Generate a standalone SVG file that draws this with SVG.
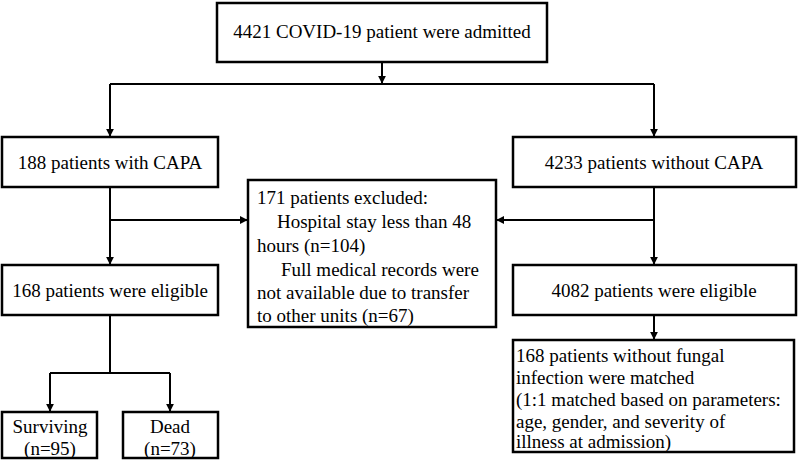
<svg xmlns="http://www.w3.org/2000/svg" width="798" height="464" viewBox="0 0 798 464">
<style>
.box{fill:#fff;stroke:#000;stroke-width:2.5}
.t{font-family:"Liberation Serif","Times New Roman",serif;font-size:19px;fill:#000}
.c{text-anchor:middle}
.ln{fill:none;stroke:#000;stroke-width:2}
</style>
<defs>
<marker id="ah" viewBox="0 0 10 10" refX="9" refY="5" markerWidth="4" markerHeight="4" orient="auto" markerUnits="strokeWidth">
<path d="M0,0 L10,5 L0,10 z" fill="#000"/>
</marker>
</defs>
<rect width="798" height="464" fill="#fff"/>
<g id="connectors">
<path class="ln" d="M382,62 V83" marker-end="url(#ah)"/>
<path class="ln" d="M110,84 H654"/>
<path class="ln" d="M110,84 V136" marker-end="url(#ah)"/>
<path class="ln" d="M654,84 V136" marker-end="url(#ah)"/>
<path class="ln" d="M110,187 V264" marker-end="url(#ah)"/>
<path class="ln" d="M110,220 H247" marker-end="url(#ah)"/>
<path class="ln" d="M654,187 V264" marker-end="url(#ah)"/>
<path class="ln" d="M654,220 H497" marker-end="url(#ah)"/>
<path class="ln" d="M654,315 V339" marker-end="url(#ah)"/>
<path class="ln" d="M110,315 V373"/>
<path class="ln" d="M50,373 H170"/>
<path class="ln" d="M50,373 V411" marker-end="url(#ah)"/>
<path class="ln" d="M170,373 V411" marker-end="url(#ah)"/>
</g>
<g id="admitted">
<rect class="box" x="217" y="3" width="330" height="59"/>
<text class="t c" x="382" y="38">4421 COVID-19 patient were admitted</text>
</g>
<g id="with-capa">
<rect class="box" x="2" y="137" width="216" height="50"/>
<text class="t c" x="110" y="169">188 patients with CAPA</text>
</g>
<g id="without-capa">
<rect class="box" x="513" y="137" width="283" height="50"/>
<text class="t c" x="654" y="169">4233 patients without CAPA</text>
</g>
<g id="excluded">
<rect class="box" x="248" y="180" width="248" height="147"/>
<text class="t" x="257" y="204">171 patients excluded:</text>
<text class="t" x="277" y="228">Hospital stay less than 48</text>
<text class="t" x="257" y="252">hours (n=104)</text>
<text class="t" x="281" y="276">Full medical records were</text>
<text class="t" x="257" y="299">not available due to transfer</text>
<text class="t" x="257" y="322">to other units (n=67)</text>
</g>
<g id="eligible-capa">
<rect class="box" x="2" y="265" width="216" height="50"/>
<text class="t c" x="110" y="297">168 patients were eligible</text>
</g>
<g id="eligible-noncapa">
<rect class="box" x="513" y="265" width="283" height="50"/>
<text class="t c" x="654" y="297">4082 patients were eligible</text>
</g>
<g id="matched">
<rect class="box" x="513" y="340" width="281" height="112"/>
<text class="t" x="516" y="362">168 patients without fungal</text>
<text class="t" x="516" y="384">infection were matched</text>
<text class="t" x="516" y="406">(1:1 matched based on parameters:</text>
<text class="t" x="516" y="428">age, gender, and severity of</text>
<text class="t" x="516" y="448">illness at admission)</text>
</g>
<g id="surviving">
<rect class="box" x="2" y="412" width="95" height="46"/>
<text class="t c" x="50" y="433">Surviving</text>
<text class="t c" x="50" y="455">(n=95)</text>
</g>
<g id="dead">
<rect class="box" x="123" y="412" width="95" height="46"/>
<text class="t c" x="170" y="433">Dead</text>
<text class="t c" x="170" y="455">(n=73)</text>
</g>
</svg>
